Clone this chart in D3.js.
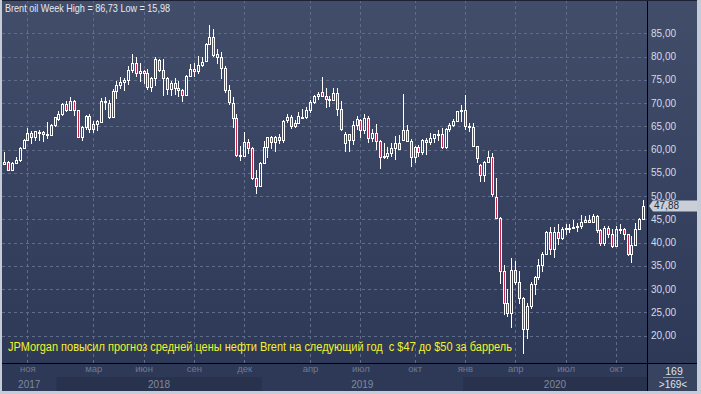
<!DOCTYPE html>
<html>
<head>
<meta charset="utf-8">
<script src="https://cdn.jsdelivr.net/npm/d3@7"></script>
<style>
  html, body { margin: 0; padding: 0; background: #c4ccd8; }
  svg { display: block; font-family: "Liberation Sans", Arial, sans-serif; }
</style>
</head>
<body>
<div id="chart"></div>
<script>
// weekly Brent candles, first week starts 2017-09-25
const firstWeek = "2017-09-25";

const opens = [
  56.9, 57.4, 55.6, 57.2, 57.8, 60.4, 62.1, 63.5, 62.6, 63.6, 63.7, 63.4, 63.2, 65.2,
  66.6, 67.7, 69.9, 68.6, 70.5, 68.4, 62.7, 64.8, 67.3, 64.4, 65.4, 66.0, 70.4, 70.0,
  67.1, 72.5, 73.8, 74.5, 75.0, 77.0, 78.6, 76.4, 76.8, 76.5, 73.4, 75.4, 79.2, 77.1,
  75.3, 73.1, 74.3, 73.2, 72.8, 71.8, 75.8, 77.4, 76.8, 78.1, 79.0, 82.8, 84.1, 80.5,
  79.8, 77.6, 72.9, 70.1, 66.8, 58.9, 58.7, 61.7, 60.3, 53.8, 52.2, 57.1, 60.5, 62.6,
  61.6, 62.75, 62.0, 66.3, 67.0, 65.1, 65.7, 67.0, 67.0, 68.4, 70.3, 71.6, 72.4, 71.6,
  70.8, 70.6, 72.2, 68.7, 61.5, 63.3, 62.0, 65.2, 66.4, 64.2, 66.7, 62.5, 63.5, 61.9,
  58.5, 58.6, 59.3, 60.4, 61.5, 62.0, 64.3, 61.9, 58.4, 60.5, 59.4, 62.0, 61.7, 62.5,
  63.3, 63.4, 60.5, 64.4, 65.2, 66.1, 68.2, 68.6, 65.0, 64.9, 60.7, 56.6, 54.5, 57.3,
  58.5, 49.7, 45.2, 33.9, 27.0, 24.9, 34.1, 31.5, 28.1, 21.4, 26.4, 31.0, 32.5, 35.1,
  37.6, 42.3, 38.7, 42.2, 41.0, 42.8, 43.2, 43.1, 43.3, 43.5, 44.4, 44.8, 44.4, 45.8,
  42.7, 39.8, 43.15, 41.9, 39.3, 42.85, 42.9, 41.8, 37.5, 39.5, 42.8, 45.0
];
const highs = [
  59.5, 57.6, 57.4, 58.5, 60.5, 62.3, 64.6, 64.0, 64.0, 64.3, 64.0, 65.9, 65.4, 67.1,
  68.3, 70.1, 70.4, 71.3, 70.6, 68.5, 65.0, 67.5, 67.7, 66.2, 66.3, 71.0, 71.3, 70.6,
  73.1, 74.8, 75.5, 75.4, 78.0, 80.5, 80.0, 78.7, 77.1, 77.3, 75.6, 80.0, 79.5, 79.4,
  75.7, 74.8, 75.3, 74.7, 73.1, 76.0, 78.3, 78.7, 80.1, 79.9, 82.9, 86.73, 86.0, 81.6,
  80.9, 78.0, 73.9, 71.3, 67.7, 60.7, 63.7, 62.2, 60.6, 55.6, 57.3, 61.9, 62.8, 62.9,
  62.9, 63.3, 66.3, 67.7, 67.4, 66.3, 68.0, 68.7, 69.2, 70.6, 71.8, 72.3, 75.6, 73.3,
  71.6, 73.3, 73.3, 70.4, 63.8, 63.4, 66.1, 67.2, 66.6, 67.6, 67.2, 64.4, 65.5, 62.0,
  61.4, 60.6, 61.3, 63.0, 63.2, 71.9, 65.2, 62.2, 60.8, 61.0, 62.3, 62.4, 63.5, 63.3,
  64.2, 64.6, 64.6, 65.6, 66.6, 68.2, 69.5, 71.75, 65.6, 65.8, 60.8, 56.9, 57.5, 59.7,
  59.3, 53.9, 45.4, 35.2, 30.0, 36.6, 36.0, 33.9, 28.3, 26.9, 31.5, 32.9, 36.4, 38.0,
  42.5, 43.4, 43.3, 43.9, 43.3, 43.9, 43.9, 44.9, 44.1, 45.9, 45.7, 46.0, 46.2, 46.0,
  42.9, 43.6, 43.5, 42.8, 43.5, 43.9, 43.2, 41.9, 41.5, 44.1, 45.2, 49.1
];
const lows = [
  56.6, 55.3, 55.3, 57.0, 57.3, 60.1, 61.8, 61.1, 61.9, 61.8, 61.6, 62.2, 63.0, 64.8,
  66.1, 67.3, 68.0, 68.3, 67.3, 62.4, 61.8, 64.3, 63.5, 63.6, 63.9, 65.6, 68.6, 66.6,
  67.0, 70.8, 73.0, 72.6, 73.8, 76.5, 75.5, 74.5, 74.0, 72.8, 72.4, 73.7, 76.6, 71.6,
  71.8, 71.6, 71.8, 71.3, 70.3, 71.6, 75.6, 75.7, 76.3, 77.8, 78.9, 82.6, 79.9, 78.5,
  75.1, 72.2, 69.5, 64.6, 58.4, 57.5, 58.4, 59.0, 53.4, 50.4, 51.9, 57.0, 58.2, 60.1,
  59.5, 61.1, 61.5, 65.8, 64.4, 64.6, 65.5, 66.8, 66.5, 67.9, 69.7, 70.7, 71.2, 68.9,
  69.2, 70.5, 67.3, 64.0, 59.5, 59.5, 60.9, 64.3, 62.4, 63.4, 61.3, 61.6, 60.0, 55.9,
  57.9, 57.9, 58.3, 57.7, 59.8, 61.8, 61.6, 56.2, 57.1, 58.3, 58.9, 58.9, 61.0, 61.3,
  61.9, 60.1, 60.1, 63.8, 64.9, 66.0, 65.9, 64.3, 63.8, 60.5, 57.1, 53.0, 53.1, 57.1,
  49.7, 45.1, 31.0, 24.5, 24.0, 21.65, 30.9, 26.8, 15.98, 19.3, 25.8, 28.7, 32.0, 33.7,
  37.4, 37.3, 36.7, 39.5, 40.6, 41.6, 42.1, 42.9, 42.2, 43.0, 44.1, 44.2, 44.3, 42.0,
  39.3, 39.3, 40.9, 38.9, 39.2, 41.9, 40.6, 37.1, 35.7, 39.4, 42.6, 44.9
];
const closes = [
  57.4, 55.6, 57.2, 57.8, 60.4, 62.1, 63.5, 62.7, 63.9, 63.7, 63.4, 63.2, 65.2, 66.9,
  67.6, 69.9, 68.6, 70.5, 68.6, 62.8, 64.8, 67.3, 64.4, 65.5, 66.2, 70.4, 70.3, 67.1,
  72.6, 73.8, 74.6, 75.0, 77.1, 78.6, 76.4, 76.8, 76.5, 73.4, 75.4, 79.4, 77.1, 75.3,
  73.1, 74.3, 73.2, 72.8, 71.8, 75.8, 77.4, 76.8, 78.1, 78.8, 82.7, 84.2, 80.4, 79.8,
  77.6, 72.8, 70.2, 66.8, 58.8, 58.7, 61.7, 60.3, 53.8, 52.2, 57.1, 60.5, 62.7, 61.6,
  62.75, 62.1, 66.2, 67.1, 65.1, 65.7, 67.2, 67.1, 68.4, 70.3, 71.6, 72.0, 71.6, 70.8,
  70.6, 72.2, 68.7, 64.5, 63.3, 62.0, 65.2, 66.5, 64.2, 66.7, 62.5, 63.5, 61.9, 58.5,
  58.6, 59.3, 60.4, 61.5, 60.2, 64.3, 61.9, 58.4, 60.5, 59.4, 62.0, 61.7, 62.5, 63.3,
  63.4, 60.5, 64.4, 65.2, 66.1, 68.2, 68.6, 65.0, 64.9, 60.7, 58.2, 54.5, 57.3, 58.5,
  50.5, 45.3, 33.9, 27.0, 24.9, 34.1, 31.5, 28.1, 21.4, 26.4, 31.0, 32.5, 35.1, 37.6,
  42.3, 38.7, 42.2, 41.0, 42.8, 43.2, 43.1, 43.3, 43.5, 44.4, 44.8, 44.35, 45.8, 42.7,
  39.8, 43.15, 41.9, 39.3, 42.85, 42.9, 41.8, 37.5, 39.5, 42.8, 45.0, 47.88
];

const priceTicks = [20, 25, 30, 35, 40, 45, 50, 55, 60, 65, 70, 75, 80, 85];

// first weekly bar of each labelled month
const monthTicks = ["2017-11-06", "2018-03-05", "2018-06-04", "2018-09-03", "2018-12-03",
  "2019-04-01", "2019-07-01", "2019-10-07", "2020-01-06", "2020-04-06", "2020-07-06", "2020-10-05"];
const monthNames = ["ноя", "мар", "июн", "сен", "дек", "апр", "июл", "окт", "янв", "апр", "июл", "окт"];

const yearNames = ["2017", "2018", "2019", "2020"];
const yearFirstBar = ["2017-09-25", "2018-01-01", "2019-01-07", "2020-01-06"];
const yearShaded = [false, true, false, true];

const title = "Brent oil Week";
const news = "JPMorgan повысил прогноз средней цены нефти Brent на следующий год  с $47 до $50 за баррель";
const barCount = "169";

function drawChart() {
    const W = 701, H = 394;
    const plotRight = 647, plotBottom = 363, axisBottom = 391;

    const parse = d3.timeParse("%Y-%m-%d");
    const start = parse(firstWeek);
    const data = opens.map(function(o, i) {
        return {date: d3.timeDay.offset(start, 7 * i), o: o, h: highs[i], l: lows[i], c: closes[i]};
    });

    const x = d3.scaleTime()
        .domain([data[0].date, data[data.length - 1].date])
        .range([4.2, 643]);
    const y = d3.scaleLinear().domain([20, 85]).range([335.5, 33.3]);
    const step = x(data[1].date) - x(data[0].date);

    const svg = d3.select("#chart").append("svg")
        .attr("width", W).attr("height", H);

    const defs = svg.append("defs");
    const grad = defs.append("linearGradient").attr("id", "bg")
        .attr("x1", 0).attr("y1", 0).attr("x2", 0).attr("y2", 1);
    grad.append("stop").attr("offset", "0%").attr("stop-color", "#414d69");
    grad.append("stop").attr("offset", "100%").attr("stop-color", "#2d3957");

    // frame
    svg.append("rect").attr("width", W).attr("height", H).attr("fill", "#c4ccd8");
    svg.append("rect").attr("x", 2).attr("y", 0).attr("width", 695).attr("height", plotBottom)
        .attr("fill", "url(#bg)");
    svg.append("rect").attr("x", 2).attr("y", plotBottom).attr("width", plotRight - 2)
        .attr("height", axisBottom - plotBottom).attr("fill", "#2e3957");
    svg.append("rect").attr("x", plotRight).attr("y", plotBottom).attr("width", 697 - plotRight)
        .attr("height", axisBottom - plotBottom).attr("fill", "#37435f");

    // year bands
    const yearStartsX = yearFirstBar.map(function(d) { return x(parse(d)) - step / 2; });
    const yearEndsX = yearStartsX.slice(1).concat([plotRight]);
    yearStartsX[0] = 2;
    yearNames.forEach(function(name, i) {
        if (yearShaded[i]) {
            svg.append("rect").attr("x", yearStartsX[i]).attr("y", 377)
                .attr("width", yearEndsX[i] - yearStartsX[i]).attr("height", 14)
                .attr("fill", "#29324d");
        }
        svg.append("text")
            .attr("x", (yearStartsX[i] + yearEndsX[i]) / 2).attr("y", 388)
            .attr("text-anchor", "middle").attr("font-size", "10px")
            .attr("fill", "#7f899e").text(name);
    });

    // grid
    const grid = svg.append("g").attr("stroke", "#5f6c8a").attr("stroke-dasharray", "3,3")
        .attr("shape-rendering", "crispEdges");
    grid.selectAll(".hg").data(priceTicks).enter().append("line")
        .attr("x1", 2).attr("x2", plotRight)
        .attr("y1", function(d) { return Math.round(y(d)) + 0.5; })
        .attr("y2", function(d) { return Math.round(y(d)) + 0.5; });
    grid.selectAll(".vg").data(monthTicks).enter().append("line")
        .attr("y1", 0).attr("y2", plotBottom)
        .attr("x1", function(d) { return Math.round(x(parse(d))) + 0.5; })
        .attr("x2", function(d) { return Math.round(x(parse(d))) + 0.5; });

    // month axis
    const xAxis = svg.append("g")
        .attr("transform", "translate(0," + plotBottom + ")")
        .call(d3.axisBottom(x)
            .tickValues(monthTicks.map(parse))
            .tickSize(0).tickPadding(2)
            .tickFormat(function(d, i) { return monthNames[i]; }));
    xAxis.select(".domain").remove();
    xAxis.selectAll("text").attr("font-size", "9.5px").attr("fill", "#6f7a93")
        .attr("font-family", "Liberation Sans, Arial, sans-serif");

    // price axis
    const comma = function(d) { return d3.format(".2f")(d).replace(".", ","); };
    const yAxis = svg.append("g")
        .attr("transform", "translate(" + (plotRight + 1) + ",0)")
        .call(d3.axisRight(y).tickValues(priceTicks).tickSize(0).tickPadding(3)
            .tickFormat(comma));
    yAxis.select(".domain").remove();
    yAxis.selectAll("text").attr("font-size", "10px").attr("fill", "#d5dbe6")
        .attr("font-family", "Liberation Sans, Arial, sans-serif");

    // candles
    const candles = svg.append("g").attr("shape-rendering", "crispEdges");
    const cg = candles.selectAll(".candle").data(data).enter().append("g").attr("class", "candle");
    cg.append("line")
        .attr("x1", function(d) { return Math.round(x(d.date)) + 0.5; })
        .attr("x2", function(d) { return Math.round(x(d.date)) + 0.5; })
        .attr("y1", function(d) { return y(d.h); })
        .attr("y2", function(d) { return y(Math.max(d.o, d.c)); })
        .attr("stroke", "#ffffff");
    cg.append("line")
        .attr("x1", function(d) { return Math.round(x(d.date)) + 0.5; })
        .attr("x2", function(d) { return Math.round(x(d.date)) + 0.5; })
        .attr("y1", function(d) { return y(Math.min(d.o, d.c)); })
        .attr("y2", function(d) { return y(d.l); })
        .attr("stroke", "#ffffff");
    cg.append("rect")
        .attr("x", function(d) { return Math.round(x(d.date)) - 0.5; })
        .attr("width", 2)
        .attr("y", function(d) { return Math.round(y(Math.max(d.o, d.c))) + 0.5; })
        .attr("height", function(d) {
            return Math.max(1, Math.round(y(Math.min(d.o, d.c))) - Math.round(y(Math.max(d.o, d.c))));
        })
        .attr("fill", function(d) { return d.c < d.o ? "#c42a4c" : "none"; })
        .attr("stroke", "#ffffff");

    // black separators
    svg.append("line").attr("x1", plotRight + 0.5).attr("x2", plotRight + 0.5)
        .attr("y1", 0).attr("y2", axisBottom).attr("stroke", "#000");
    svg.append("line").attr("x1", 2).attr("x2", 697)
        .attr("y1", plotBottom + 0.5).attr("y2", plotBottom + 0.5).attr("stroke", "#000");
    svg.append("line").attr("x1", 2).attr("x2", 697)
        .attr("y1", 0.5).attr("y2", 0.5).attr("stroke", "#1c2233");

    // last price marker
    const last = data[data.length - 1];
    const ly = y(last.c);
    svg.append("path")
        .attr("d", "M" + (plotRight + 2) + "," + ly + "L653," + (ly - 5.5) + "L697," + (ly - 5.5) +
            "L697," + (ly + 5.5) + "L653," + (ly + 5.5) + "Z")
        .attr("fill", "#c9ced7");
    svg.append("text").attr("x", 654).attr("y", ly).attr("dy", "0.35em")
        .attr("font-size", "10px").attr("fill", "#222a3a").text(comma(last.c));

    // title computed from the data
    const hi = d3.max(highs), lo = d3.min(lows);
    svg.append("text").attr("x", 5).attr("y", 12)
        .attr("font-size", "10.5px").attr("fill", "#e6eaf0")
        .attr("textLength", 165).attr("lengthAdjust", "spacingAndGlyphs")
        .text(title + " High = " + comma(hi) + " Low = " + comma(lo));

    // news line
    svg.append("text").attr("x", 8).attr("y", 351)
        .attr("font-size", "12px").attr("fill", "#f2f22a")
        .attr("textLength", 504).attr("lengthAdjust", "spacingAndGlyphs")
        .attr("xml:space", "preserve")
        .text(news);

    // bar counter
    svg.append("text").attr("x", 674).attr("y", 375).attr("text-anchor", "middle")
        .attr("font-size", "10.5px").attr("fill", "#dfe4ec").text(barCount);
    svg.append("line").attr("x1", 663).attr("x2", 684).attr("y1", 377.5).attr("y2", 377.5)
        .attr("stroke", "#8b95aa");
    svg.append("text").attr("x", 673).attr("y", 388).attr("text-anchor", "middle")
        .attr("font-size", "10px").attr("fill", "#dfe4ec").text(">" + barCount + "<");
}

drawChart();
</script>
</body>
</html>
